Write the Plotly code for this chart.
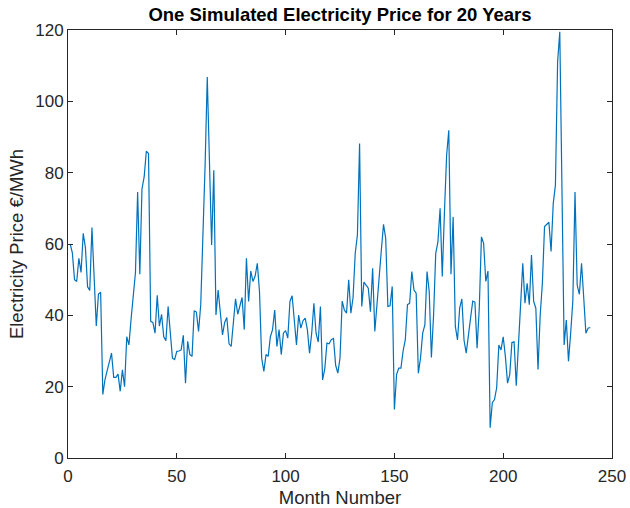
import plotly.graph_objects as go

months = list(range(1, 241))
price = [
    60, 57.5, 50, 49.5, 56, 52, 63, 59, 48, 47,
    64.6, 50, 37, 46, 46.5, 17.8, 22, 24.5, 27, 29.4,
    22.6, 22.6, 23.5, 18.7, 24.7, 20, 34, 31.7, 39, 45,
    52, 74.6, 51.5, 75.5, 78.8, 86, 85.4, 38.3, 38, 35,
    45.6, 37, 40.3, 34, 32.9, 42.5, 35, 28, 27.6, 29.9,
    30, 30.3, 34.4, 21, 32.7, 29, 28.5, 41.3, 40.9, 35.5,
    43, 60, 82, 106.8, 83, 59.7, 80.7, 40.1, 47.1, 40,
    34.5, 38, 39.4, 32, 31.3, 38, 44.6, 40.3, 43, 45,
    36, 56, 43.9, 52.4, 49.5, 51, 54.6, 46.7, 28, 24.3,
    29, 28.5, 34, 36, 41.5, 31.3, 36, 29, 35, 35.7,
    33.6, 43.9, 45.5, 39, 31.7, 40.1, 36.4, 38.5, 39.2, 36,
    29.4, 35, 43.4, 35, 32.5, 42.5, 21.9, 25, 32.2, 32,
    33.2, 33.5, 26, 23.8, 28, 44, 41.5, 40.6, 50, 40.6,
    45, 57.4, 62.5, 88.2, 42.5, 49.3, 48.5, 47.6, 41, 53.2,
    35.5, 44, 51.3, 58.3, 65.5, 61.6, 42.5, 42.7, 48.1, 13.6,
    23.4, 25.2, 25.2, 30, 33.1, 43, 43.4, 52.3, 47.1, 46.2,
    23.8, 28, 35, 37.3, 52.3, 46.7, 28.2, 40, 57.4, 60.6,
    70, 50.9, 69, 84.9, 91.9, 51.5, 67.6, 36.9, 33.1, 42,
    44.6, 33, 29.4, 35, 39.2, 44, 43.7, 30.8, 42, 62,
    60.2, 49.5, 52.4, 8.5, 15.5, 16.4, 19.7, 31.7, 30.3, 34,
    28.5, 21, 23.4, 32.4, 32.6, 20.3, 30, 43, 54.6, 43.4,
    49, 43, 56.9, 43.9, 42, 24.8, 40, 49, 64.9, 65.5,
    66.1, 57.9, 71.4, 76.5, 111, 119.5, 75, 31.7, 38.7, 27.1,
    35, 44, 74.6, 48.5, 45.9, 54.6, 45, 35, 36.4, 36.6,
]

x_ticks = [0, 50, 100, 150, 200, 250]
y_ticks = [0, 20, 40, 60, 80, 100, 120]

title_text = "One Simulated Electricity Price for 20 Years"
x_label = "Month Number"
y_label = "Electricity Price €/MWh"

axis_color = "#262626"
font_family = "Liberation Sans, Arial, Helvetica, sans-serif"

fig = go.Figure()
fig.add_trace(go.Scatter(
    x=months, y=price, mode="lines",
    line=dict(color="#0072BD", width=1.2),
    hoverinfo="skip", showlegend=False,
))

axis_common = dict(
    showgrid=False, zeroline=False,
    showline=True, linecolor=axis_color, linewidth=1, mirror="ticks",
    ticks="inside", ticklen=5, tickwidth=1, tickcolor=axis_color,
    tickfont=dict(family=font_family, size=17, color=axis_color),
)

fig.update_xaxes(
    range=[0, 250], tickvals=x_ticks, ticklabelstandoff=3,
    title=dict(text=x_label, font=dict(family=font_family, size=18.5, color=axis_color), standoff=6),
    **axis_common,
)
fig.update_yaxes(
    range=[0, 120], tickvals=y_ticks,
    title=dict(text=y_label, font=dict(family=font_family, size=18.5, color=axis_color), standoff=6),
    **axis_common,
)

fig.update_layout(
    width=630, height=508,
    margin=dict(l=68, r=18, t=30, b=50, autoexpand=False),
    paper_bgcolor="white", plot_bgcolor="white",
    title=dict(
        text="<b>" + title_text + "</b>",
        font=dict(family=font_family, size=18.5, color="black"),
        x=0.5, xref="paper", xanchor="center",
        y=1 - 15 / 508, yref="container", yanchor="middle",
    ),
)

fig.write_html(
    "out.html",
    config={"displayModeBar": False},
    post_script="document.body.style.margin='0px';document.body.style.overflow='hidden';",
)
